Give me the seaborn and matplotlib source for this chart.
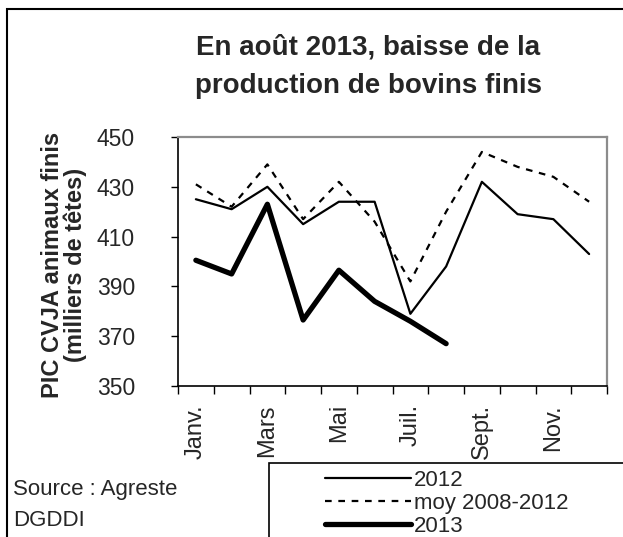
import numpy as np
import pandas as pd
import matplotlib
matplotlib.use("Agg")
import matplotlib.pyplot as plt
from matplotlib.patches import Rectangle
import seaborn as sns

mois = ["Janv.", "Févr.", "Mars", "Avr.", "Mai", "Juin",
        "Juil.", "Août", "Sept.", "Oct.", "Nov.", "Déc."]
v2012 = [425, 421, 430, 415, 424, 424, 379, 398, 432, 419, 417, 403]
moy = [431, 422, 439, 417, 432, 416, 392, 420, 444, 438, 434, 424]
v2013 = [400.5, 395, 423, 376.5, 396.5, 384, 376, 367]

sns.set_theme(style="white")
plt.rcParams["font.family"] = ["Liberation Sans", "DejaVu Sans"]

W, H = 623, 537
fig = plt.figure(figsize=(W / 100, H / 100), dpi=100)
ax = fig.add_axes([178 / W, 1 - 386 / H, (607 - 178) / W, (386 - 137) / H])

x = np.arange(len(mois))
sns.lineplot(x=x, y=v2012, ax=ax, color="black", linewidth=1.6, label="2012")
sns.lineplot(x=x, y=moy, ax=ax, color="black", linewidth=1.6,
             linestyle=(0, (3, 3)), label="moy 2008-2012")
sns.lineplot(x=x[:len(v2013)], y=v2013, ax=ax, color="black", linewidth=3.8,
             solid_capstyle="round", label="2013")

ax.set_xlim(-0.5, len(mois) - 0.5)
ax.set_ylim(350, 450)
ax.set_yticks(range(350, 451, 20))
ax.tick_params(axis="y", direction="out", length=5, width=1, pad=26,
               labelsize=16.5, color="black", left=True)
ax.set_xticks(np.arange(-0.5, len(mois), 1))
ax.set_xticklabels([])
ax.tick_params(axis="x", which="major", direction="out", length=6, width=1,
               color="black", bottom=True)
ax.set_xticks(x[::2], minor=True)
ax.set_xticklabels(mois[::2], minor=True, rotation=90, fontsize=17)
ax.tick_params(axis="x", which="minor", length=0, pad=13)
ax.set_xlabel("")
ax.set_ylabel("")
for s in ["left", "bottom"]:
    ax.spines[s].set_color("black")
    ax.spines[s].set_linewidth(1.2)
for s in ["top", "right"]:
    ax.spines[s].set_color("#8c8c8c")
    ax.spines[s].set_linewidth(1.6)
ax.get_legend().remove()

fig.text(368 / W, 1 - 67 / H, "En août 2013, baisse de la\nproduction de bovins finis",
         ha="center", va="center", fontsize=20, fontweight="bold",
         linespacing=1.62)
fig.text(64 / W, 1 - 265 / H, "PIC CVJA animaux finis\n(milliers de têtes)",
         ha="center", va="center", rotation=90, fontsize=17,
         fontweight="bold", multialignment="center", linespacing=0.95)
fig.text(13 / W, 1 - 490 / H, "Source : Agreste", ha="left", va="center", fontsize=16)
fig.text(13 / W, 1 - 521 / H, "DGDDI", ha="left", va="center", fontsize=16)

handles, labels = ax.get_legend_handles_labels()
fig.legend(handles, labels, loc="upper left", bbox_to_anchor=(325 / W, 1 - 470 / H),
           frameon=False, fontsize=16, handlelength=3.85, handletextpad=0.15,
           labelspacing=0.08, borderpad=0, borderaxespad=0)

fig.patches.append(Rectangle((269 / W, -0.1), 1, (537 - 463) / H + 0.1,
                             transform=fig.transFigure, fill=False,
                             edgecolor="black", linewidth=1.2))
fig.patches.append(Rectangle((7 / W, -0.1), 2, 1 - 9 / H + 0.1,
                             transform=fig.transFigure, fill=False,
                             edgecolor="black", linewidth=1.5))

fig.savefig("out.png", dpi=100)
